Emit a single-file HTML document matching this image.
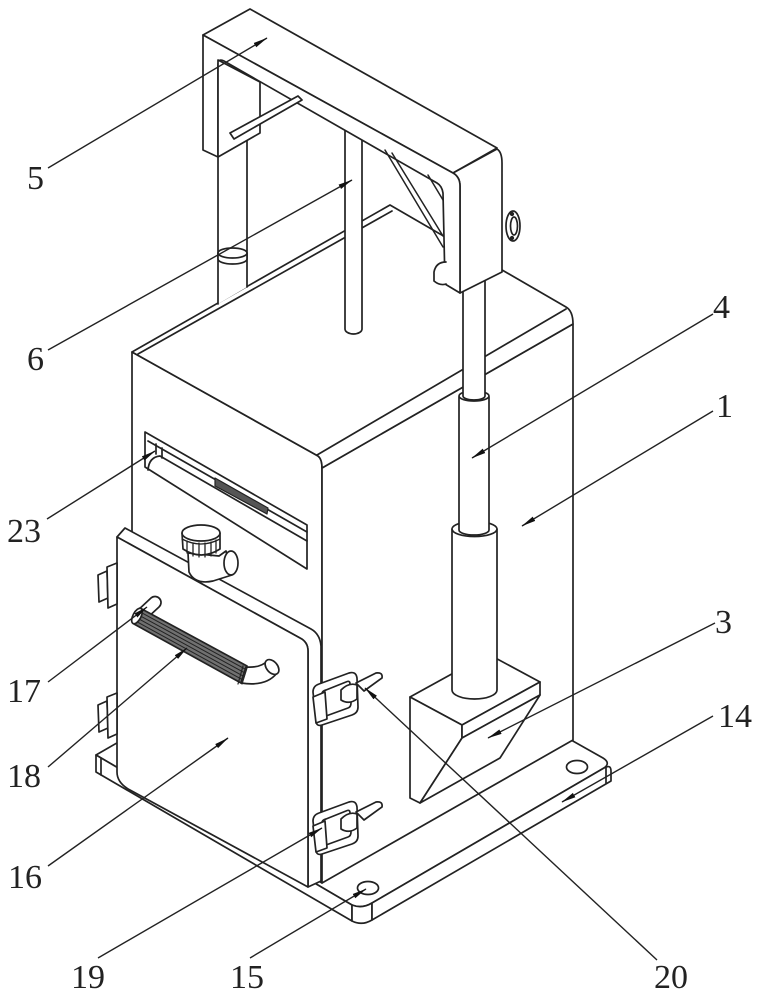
<!DOCTYPE html>
<html><head><meta charset="utf-8"><style>
html,body{margin:0;padding:0;background:#fff;}
svg{display:block;}
text{font-family:"Liberation Serif","DejaVu Serif",serif;font-size:34px;fill:#222;}
</style></head><body>
<svg width="761" height="1000" viewBox="0 0 761 1000" xmlns="http://www.w3.org/2000/svg">
<defs>
<marker id="ar" markerWidth="15" markerHeight="7" refX="14" refY="3.5" orient="auto" markerUnits="userSpaceOnUse"><path d="M0,1 L14.5,3.5 L0,6 Z" fill="#111"/></marker>
</defs>
<g fill="#fff" stroke="#222" stroke-width="1.7" stroke-linejoin="round" stroke-linecap="round">
<!-- base plate -->
<path d="M96,755 L344,612 L603,758 Q611,763 604,768 L372,903 Q362,909 352,905 Z"/>
<path d="M96,755 L352,905 L352,921 L96,772 Z"/>
<path d="M352,905 Q362,909 372,903 L372,920 Q362,926 352,921 Z"/>
<path d="M372,903 L604,768 Q611,764 611,771 L611,781 L372,920 Z"/>
<path d="M101,758 L101,775" fill="none"/>
<path d="M606,767 L606,783" fill="none"/>
<ellipse cx="368" cy="888" rx="10.5" ry="6.5"/>
<ellipse cx="577" cy="767" rx="10.5" ry="6.5"/>

<!-- box -->
<path d="M132,352 L318,456 Q322,459 322,468 L322,883 L132,773 Z"/>
<path d="M322,468 L573,324 L573,740 L322,883 Z"/>
<path d="M132,352 L390,205 L566,307 Q573,311 573,324 L322,468 Q322,459 318,456 Z"/>
<path d="M317,455 L566,309" fill="none"/>
<path d="M138,354 L392,211" fill="none"/>

<!-- slot 23 -->
<path d="M145,432 L307,525 L307,569 L145,467 Z"/>
<path d="M148,441 L307,532" fill="none"/>
<path d="M148,470 Q149,457 160,456 L307,541" fill="none"/>
<path d="M156,444 L156,454 M162,448 L162,458" fill="none"/>
<path d="M215,478 L268,508 L267,514 L215,486 Z" fill="#555" stroke-width="1.2"/>

<!-- door -->
<path d="M117,537 L125,528 L311,629 Q320,634 321,646 L321,881 L308,887 L308,651 Q308,642 300,638 Z"/>
<path d="M117,537 L300,638 Q308,642 308,651 L308,887 L130,790 Q117,783 117,772 Z"/>

<!-- hinges -->
<path d="M98,575 L107,571 L108,598 L99,602 Z"/>
<path d="M107,567 L117,563 L117,604 L108,608 Z"/>
<path d="M98,705 L107,701 L108,728 L99,732 Z"/>
<path d="M107,697 L117,693 L117,734 L108,738 Z"/>

<!-- knob valve -->
<path d="M188,553 L189,572 Q195,585 213,581 L232,575 L226,551 L219,556 Z"/>
<ellipse cx="231" cy="563" rx="7" ry="12"/>
<path d="M182,533 L183,549 Q201,561 220,549 L220,533 Z"/>
<ellipse cx="201" cy="533" rx="19" ry="8"/>
<path d="M182,539 Q201,549 220,539 M187,541 L187,553 M193,543 L193,556 M199,543 L199,557 M205,543 L205,557 M211,542 L211,556 M216,540 L216,553" fill="none" stroke-width="1.3"/>

<!-- handle -->
<path d="M136,612 L151,598 A6,6 0 0 1 159,607 L146,619 Z"/>
<path d="M140,608 L247,666 L241,683 L134,624 Z" fill="#707070"/>
<path d="M138.8,611.2 L245.8,669.4 M137.6,614.4 L244.6,672.8 M136.4,617.6 L243.4,676.2 M135.2,620.8 L242.2,679.6" fill="none" stroke-width="1"/>
<ellipse cx="137" cy="616" rx="4" ry="8.5" transform="rotate(28 137 616)"/>
<path d="M246,667 Q261,668 267,661 L277,673 Q266,687 241,683 Z"/>
<ellipse cx="272" cy="667" rx="5.5" ry="8.5" transform="rotate(-40 272 667)"/>
<path d="M243,666 L238,684 M247,668 L242,684" fill="none" stroke-width="1.2"/>

<!-- latches -->
<g id="latch">
<path d="M313,692 Q313,686 319,684 L349,673 Q356,671 357,678 L358,707 Q358,713 352,715 L322,725 Q316,727 316,720 Z M322,694 L322,713 Q322,717 326,716 L348,708 Q351,707 351,703 L350,684 Q350,680 346,682 L326,690 Q322,691 322,694 Z" fill-rule="evenodd"/>
<path d="M313,697 L325,692 L327,719 L316,723 Z"/>
<path d="M341,690 L341,700 Q349,705 357,699 L357,685 Q349,682 341,690 Z"/>
<path d="M356,683 L376,673 Q383,672 382,678 L364,691 Z"/>
</g>
<use href="#latch" transform="translate(0,129)"/>

<!-- block 3 -->
<path d="M410,697 L488,654 L540,682 L462,725 Z"/>
<path d="M410,697 L462,725 L462,738 L420,803 L410,798 Z"/>
<path d="M462,725 L540,682 L540,695 L462,738 Z"/>
<path d="M462,738 L540,695 L500,758 L420,803 Z"/>

<!-- telescopic rod 4 -->
<path d="M452,529 L452,690 A22.5,9 0 0 0 497,690 L497,529 Z"/>
<ellipse cx="474.5" cy="529" rx="22.5" ry="7.5"/>
<path d="M459,397 L459,530 A15,5 0 0 0 489,530 L489,397 Z"/>
<ellipse cx="474" cy="396" rx="15" ry="5"/>
<path d="M463,291 L485,280 L485,396 A11,4 0 0 1 463,396 Z"/>

<!-- left guide rod -->
<path d="M218,157 L247,141 L247,287 L218,304 Z" stroke="none"/>
<path d="M218,157 L218,304 M247,141 L247,287" fill="none"/>
<path d="M218,253 L218,259 A14.5,5 0 0 0 247,259 L247,253"/>
<ellipse cx="232.5" cy="253" rx="14.5" ry="5"/>

<!-- central rod 6 -->
<path d="M345,128 L345,329 A8.5,5 0 0 0 362,329 L362,138"/>

<!-- arm 5 -->
<path d="M203,35 L250,9 L497,148 L453,173 Z"/>
<path d="M453,173 L497,149 Q502,152 502,163 L502,272 L460,293 L460,186 Q460,177 453,173 Z"/>
<path d="M203,35 L453,173 Q460,177 460,186 L460,293 L445,284 L443,193 Q442,186 437,183 L224,61 Q218,58 218,65 L218,157 L203,150 Z"/>
<path d="M218,60 L260,82 L260,133 L218,157 Z"/>
<path d="M230,133 L298,96 L302,100 L234,139 Z"/>
<path d="M385,150 L443,247 M392,153 L443,236 M428,175 L443,200" fill="none" stroke-width="1.5"/>
<path d="M446,262 Q436,262 434,272 L434,281 Q440,286 446,284" />
<ellipse cx="513" cy="226" rx="7" ry="15"/>
<ellipse cx="514" cy="226" rx="3.5" ry="9"/>
<circle cx="512" cy="214" r="1.3" fill="#222"/>
<circle cx="512" cy="238" r="1.3" fill="#222"/>
</g>

<!-- leaders -->
<g stroke="#222" stroke-width="1.4" fill="none" marker-end="url(#ar)">
<path d="M48,168 L267,38"/>
<path d="M48,350 L352,180"/>
<path d="M47,519 L155,451"/>
<path d="M48,682 L147,607"/>
<path d="M48,767 L187,648"/>
<path d="M48,866 L228,738"/>
<path d="M98,958 L322,828"/>
<path d="M250,958 L366,889"/>
<path d="M657,960 L365,688"/>
<path d="M713,314 L472,458"/>
<path d="M713,411 L522,526"/>
<path d="M715,623 L488,738"/>
<path d="M713,716 L562,802"/>
</g>

<!-- labels -->
<text x="27" y="189">5</text>
<text x="27" y="370">6</text>
<text x="7" y="542">23</text>
<text x="7" y="702">17</text>
<text x="7" y="787">18</text>
<text x="8" y="888">16</text>
<text x="71" y="988">19</text>
<text x="230" y="988">15</text>
<text x="654" y="988">20</text>
<text x="713" y="318">4</text>
<text x="716" y="417">1</text>
<text x="715" y="633">3</text>
<text x="718" y="727">14</text>
</svg>
</body></html>
